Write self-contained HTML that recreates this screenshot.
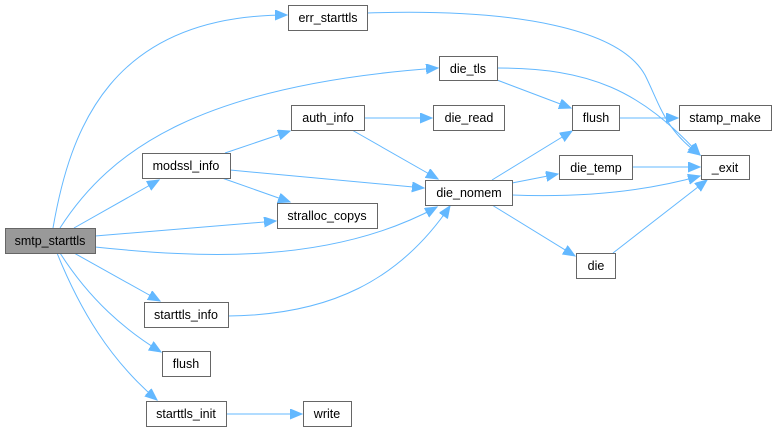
<!DOCTYPE html>
<html><head><meta charset="utf-8"><style>
html,body{margin:0;padding:0;background:#fff;}
svg{display:block;}
text{font-family:"Liberation Sans",Arial,sans-serif;font-size:12.5px;fill:#000;text-anchor:middle;}
.n{fill:#fff;stroke:#666;stroke-width:1;}
.e{fill:none;stroke:#63b8ff;stroke-width:1;}
</style></head><body>
<svg width="777" height="431" viewBox="0 0 777 431" xmlns="http://www.w3.org/2000/svg">
<defs>
<marker id="a" markerUnits="userSpaceOnUse" markerWidth="14" markerHeight="12" refX="12" refY="5" orient="auto">
<polygon points="0,0 12,5 0,10" fill="#63b8ff" stroke="#63b8ff"/>
</marker>
</defs>
<g class="e" marker-end="url(#a)">
<path d="M53,228 C70,130 110,15 287,15"/>
<path d="M60,228 C110,150 200,85 438,68"/>
<path d="M74,228 L159,180"/>
<path d="M95,236 L276,221"/>
<path d="M95,247 C200,258 330,265 437,207"/>
<path d="M74,253 L160,301"/>
<path d="M60,253 C90,300 125,330 161,352"/>
<path d="M57,253 C80,310 110,360 157,400"/>
<path d="M226,414 L302,414"/>
<path d="M228,316 C330,315 400,280 450,206"/>
<path d="M225,153 L290,131"/>
<path d="M222,178 L290,202"/>
<path d="M230,170 L424,188"/>
<path d="M364,118 L432,118"/>
<path d="M352,130 L438,179"/>
<path d="M497,80 L571,108"/>
<path d="M497,68 C590,68 640,90 700,155"/>
<path d="M367,13 C520,8 620,30 645,75 C660,105 665,130 700,155"/>
<path d="M619,118 L678,118"/>
<path d="M492,180 L572,131"/>
<path d="M512,183 L558,174"/>
<path d="M512,195 C590,198 650,190 700,176"/>
<path d="M632,167 L700,167"/>
<path d="M492,205 L575,256"/>
<path d="M613,253 L707,180"/>
</g>
<rect x="5.5" y="228.5" width="90" height="25" fill="#999" stroke="#666"/>
<text x="50" y="245">smtp_starttls</text>
<rect class="n" x="288.5" y="5.5" width="79" height="25"/><text x="328" y="22">err_starttls</text>
<rect class="n" x="439.5" y="56.5" width="58" height="24"/><text x="468" y="73">die_tls</text>
<rect class="n" x="291.5" y="105.5" width="73" height="25"/><text x="328" y="122">auth_info</text>
<rect class="n" x="433.5" y="105.5" width="71" height="25"/><text x="469" y="122">die_read</text>
<rect class="n" x="142.5" y="153.5" width="88" height="25"/><text x="186" y="170">modssl_info</text>
<rect class="n" x="277.5" y="203.5" width="100" height="25"/><text x="327" y="220">stralloc_copys</text>
<rect class="n" x="425.5" y="180.5" width="87" height="25"/><text x="469" y="197">die_nomem</text>
<rect class="n" x="572.5" y="105.5" width="47" height="25"/><text x="596" y="122">flush</text>
<rect class="n" x="679.5" y="105.5" width="92" height="25"/><text x="725" y="122">stamp_make</text>
<rect class="n" x="559.5" y="155.5" width="73" height="24"/><text x="596" y="172">die_temp</text>
<rect class="n" x="701.5" y="155.5" width="48" height="24"/><text x="725" y="172">_exit</text>
<rect class="n" x="576.5" y="253.5" width="39" height="25"/><text x="596" y="270">die</text>
<rect class="n" x="144.5" y="302.5" width="84" height="25"/><text x="186" y="319">starttls_info</text>
<rect class="n" x="162.5" y="351.5" width="48" height="25"/><text x="186" y="368">flush</text>
<rect class="n" x="146.5" y="401.5" width="80" height="25"/><text x="186" y="418">starttls_init</text>
<rect class="n" x="303.5" y="401.5" width="48" height="25"/><text x="327" y="418">write</text>
</svg>
</body></html>
